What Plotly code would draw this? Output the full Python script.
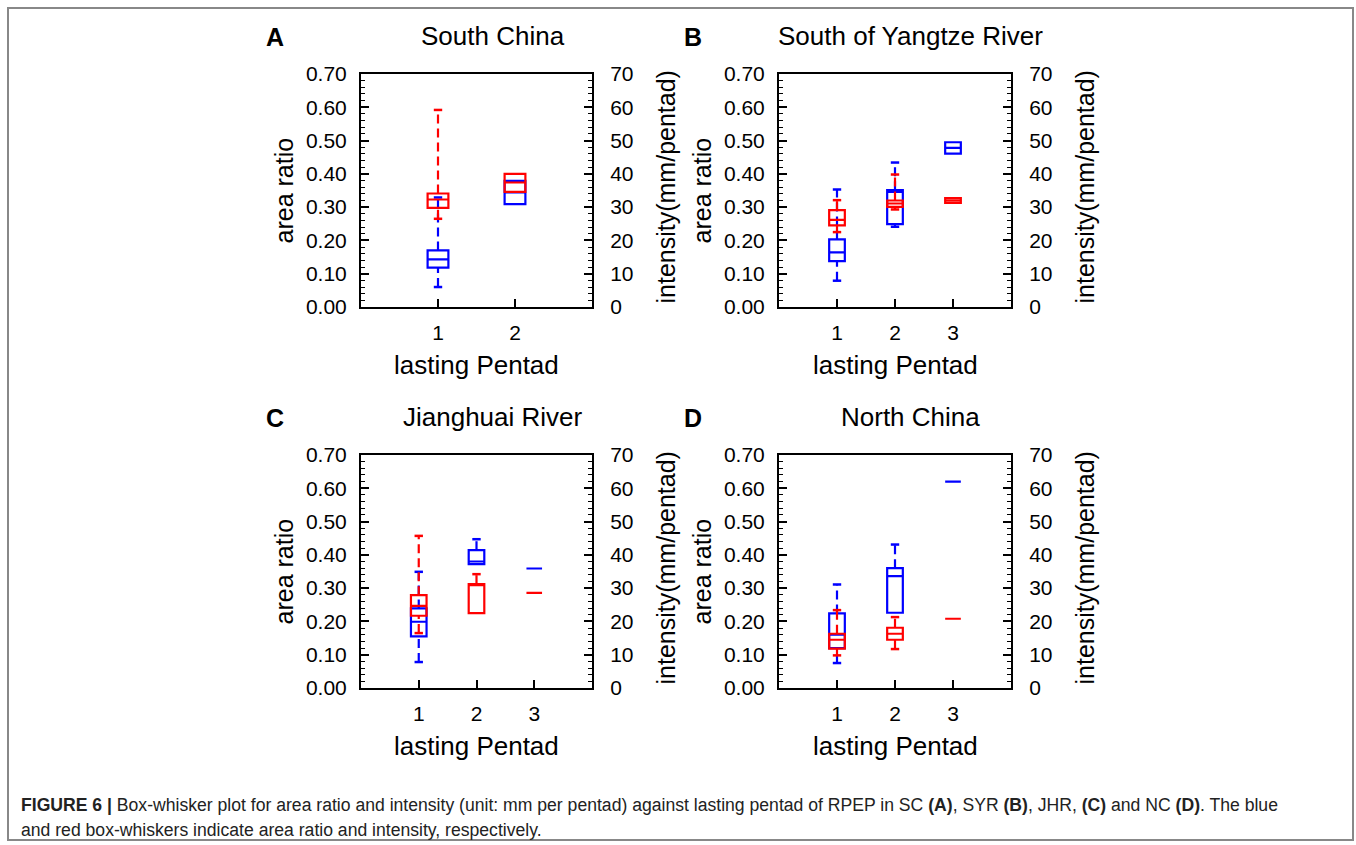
import plotly.graph_objects as go

W, H = 1356, 845

# ---------------- data ----------------
# Panel A: South China
A_cats = [1, 2]
A_area_lo = [0.060, 0.309]
A_area_q1 = [0.118, 0.309]
A_area_med = [0.143, 0.344]
A_area_q3 = [0.170, 0.379]
A_area_hi = [0.329, 0.379]
A_int_lo = [26.5, 34.6]
A_int_q1 = [29.8, 34.6]
A_int_med = [32.3, 37.4]
A_int_q3 = [34.1, 40.0]
A_int_hi = [59.2, 40.0]

# Panel B: South of Yangtze River
B_cats = [1, 2, 3]
B_area_lo = [0.079, 0.241, 0.461]
B_area_q1 = [0.138, 0.249, 0.461]
B_area_med = [0.164, 0.346, 0.478]
B_area_q3 = [0.203, 0.351, 0.495]
B_area_hi = [0.353, 0.434, 0.495]
B_int_lo = [22.5, 29.3, 31.3]
B_int_q1 = [24.5, 30.1, 31.3]
B_int_med = [26.2, 31.1, 32.0]
B_int_q3 = [29.1, 32.0, 32.7]
B_int_hi = [32.1, 39.8, 32.7]

# Panel C: Jianghuai River
C_cats = [1, 2, 3]
C_area_lo = [0.078, 0.372, 0.359]
C_area_q1 = [0.155, 0.372, 0.359]
C_area_med = [0.199, 0.380, 0.359]
C_area_q3 = [0.239, 0.414, 0.359]
C_area_hi = [0.349, 0.447, 0.359]
C_int_lo = [16.5, 22.5, 28.6]
C_int_q1 = [21.7, 22.5, 28.6]
C_int_med = [24.7, 31.0, 28.6]
C_int_q3 = [27.9, 31.2, 28.6]
C_int_hi = [45.7, 34.2, 28.6]

# Panel D: North China
D_cats = [1, 2, 3]
D_area_lo = [0.075, 0.226, 0.620]
D_area_q1 = [0.120, 0.226, 0.620]
D_area_med = [0.160, 0.336, 0.620]
D_area_q3 = [0.224, 0.360, 0.620]
D_area_hi = [0.311, 0.431, 0.620]
D_int_lo = [9.8, 11.7, 20.8]
D_int_q1 = [11.8, 14.5, 20.8]
D_int_med = [14.5, 16.3, 20.8]
D_int_q3 = [16.3, 18.1, 20.8]
D_int_hi = [23.4, 21.3, 20.8]

panel_letters = ["A", "B", "C", "D"]
panel_titles = ["South China", "South of Yangtze River", "Jianghuai River", "North China"]
x_ranges = [[0, 3], [0, 4], [0, 4], [0, 4]]
left_ticks = [0.0, 0.1, 0.2, 0.3, 0.4, 0.5, 0.6, 0.7]
right_ticks = [0, 10, 20, 30, 40, 50, 60, 70]

panels = [
    (A_cats, (A_area_lo, A_area_q1, A_area_med, A_area_q3, A_area_hi),
     (A_int_lo, A_int_q1, A_int_med, A_int_q3, A_int_hi)),
    (B_cats, (B_area_lo, B_area_q1, B_area_med, B_area_q3, B_area_hi),
     (B_int_lo, B_int_q1, B_int_med, B_int_q3, B_int_hi)),
    (C_cats, (C_area_lo, C_area_q1, C_area_med, C_area_q3, C_area_hi),
     (C_int_lo, C_int_q1, C_int_med, C_int_q3, C_int_hi)),
    (D_cats, (D_area_lo, D_area_q1, D_area_med, D_area_q3, D_area_hi),
     (D_int_lo, D_int_q1, D_int_med, D_int_q3, D_int_hi)),
]

# ---------------- layout geometry (pixels) ----------------
plot_px = [  # left, right, top, bottom
    (361, 592, 74, 307),
    (779, 1011, 74, 307),
    (361, 592, 455, 688),
    (779, 1011, 455, 688),
]

FONT = "Liberation Sans, Arial, Helvetica, sans-serif"
BLUE = "#0000ff"
RED = "#ff0000"
BOXW = 0.27

fig = go.Figure()
layout = {}
annotations = []


def fx(p):
    return p / W


def fy(p):
    return 1 - p / H


def add_series(cats, stats, color, xa, ya):
    lo, q1, med, q3, hi = stats
    fig.add_trace(go.Box(
        x=cats, q1=q1, median=med, q3=q3, lowerfence=q1, upperfence=q3,
        width=BOXW, boxpoints=False, line=dict(color=color, width=2.2),
        fillcolor="rgba(0,0,0,0)", xaxis=xa, yaxis=ya, showlegend=False,
        hoverinfo="skip"))
    wx, wy, cx, cy = [], [], [], []
    for c, l, a, b, h in zip(cats, lo, q1, q3, hi):
        if h > b:
            wx += [c, c, None]
            wy += [b, h, None]
            cx.append(c)
            cy.append(h)
        if l < a:
            wx += [c, c, None]
            wy += [l, a, None]
            cx.append(c)
            cy.append(l)
    if wx:
        fig.add_trace(go.Scatter(
            x=wx, y=wy, mode="lines", line=dict(color=color, width=2.2, dash="9px,5px"),
            xaxis=xa, yaxis=ya, showlegend=False, hoverinfo="skip"))
        fig.add_trace(go.Scatter(
            x=cx, y=cy, mode="markers",
            marker=dict(symbol="line-ew", size=6, line=dict(color=color, width=2.5)),
            xaxis=xa, yaxis=ya, showlegend=False, hoverinfo="skip"))


for i, (cats, area, inten) in enumerate(panels):
    L, R, T, B = plot_px[i]
    xn = i + 1
    yl = 2 * i + 1
    yr = 2 * i + 2
    xa = "x" if xn == 1 else f"x{xn}"
    yla = "y" if yl == 1 else f"y{yl}"
    yra = f"y{yr}"
    xkey = "xaxis" if xn == 1 else f"xaxis{xn}"
    ylkey = "yaxis" if yl == 1 else f"yaxis{yl}"
    yrkey = f"yaxis{yr}"

    layout[xkey] = dict(
        domain=[fx(L), fx(R)], anchor=yla, range=x_ranges[i], automargin=False,
        tickmode="array", tickvals=cats, ticktext=[str(c) for c in cats],
        ticks="inside", ticklen=8, tickwidth=2, tickcolor="black",
        showline=True, linewidth=2, linecolor="black", mirror=True,
        showgrid=False, zeroline=False, ticklabelstandoff=6,
        tickfont=dict(family=FONT, size=21, color="black"))
    layout[ylkey] = dict(
        domain=[fy(B), fy(T)], anchor=xa, range=[0, 0.7], automargin=False,
        tickmode="array", tickvals=left_ticks, ticktext=[f"{v:.2f}" for v in left_ticks],
        ticks="inside", ticklen=8, tickwidth=1.5, tickcolor="black",
        minor=dict(dtick=0.02, tick0=0, ticks="inside", ticklen=4, tickwidth=1, tickcolor="black"),
        showline=True, linewidth=2, linecolor="black",
        showgrid=False, zeroline=False, ticklabelstandoff=8,
        tickfont=dict(family=FONT, size=21, color="black"))
    layout[yrkey] = dict(
        overlaying=yla, side="right", anchor=xa, range=[0, 70], automargin=False,
        tickmode="array", tickvals=right_ticks, ticktext=[str(v) for v in right_ticks],
        ticks="inside", ticklen=8, tickwidth=1.5, tickcolor="black",
        minor=dict(dtick=2, tick0=0, ticks="inside", ticklen=4, tickwidth=1, tickcolor="black"),
        showline=True, linewidth=2, linecolor="black",
        showgrid=False, zeroline=False, ticklabelstandoff=12,
        tickfont=dict(family=FONT, size=21, color="black"))

    add_series(cats, area, BLUE, xa, yla)
    add_series(cats, inten, RED, xa, yra)

    # panel letter and title
    annotations.append(dict(text=f"<b>{panel_letters[i]}</b>", x=fx(L - 86), y=fy(T - 37),
                            xref="paper", yref="paper", showarrow=False,
                            xanchor="center", yanchor="middle",
                            font=dict(family=FONT, size=25, color="black")))
    annotations.append(dict(text=panel_titles[i], x=fx((L + R) / 2 + 16), y=fy(T - 38),
                            xref="paper", yref="paper", showarrow=False,
                            xanchor="center", yanchor="middle",
                            font=dict(family=FONT, size=26, color="black")))
    # axis titles
    annotations.append(dict(text="area ratio", x=fx(L - 78), y=fy((T + B) / 2),
                            xref="paper", yref="paper", showarrow=False, textangle=-90,
                            xanchor="center", yanchor="middle",
                            font=dict(family=FONT, size=25, color="black")))
    annotations.append(dict(text="intensity(mm/pentad)", x=fx(R + 73), y=fy((T + B) / 2 - 3),
                            xref="paper", yref="paper", showarrow=False, textangle=-90,
                            xanchor="center", yanchor="middle",
                            font=dict(family=FONT, size=25, color="black")))
    annotations.append(dict(text="lasting Pentad", x=fx((L + R) / 2), y=fy(B + 58),
                            xref="paper", yref="paper", showarrow=False,
                            xanchor="center", yanchor="middle",
                            font=dict(family=FONT, size=26, color="black")))

caption1 = ("<b>FIGURE 6 |</b> Box-whisker plot for area ratio and intensity (unit: mm per pentad) "
            "against lasting pentad of RPEP in SC <b>(A)</b>, SYR <b>(B)</b>, JHR, <b>(C)</b> and NC "
            "<b>(D)</b>. The blue")
caption2 = "and red box-whiskers indicate area ratio and intensity, respectively."
CAPFONT = "Liberation Sans, Arial, sans-serif"
annotations.append(dict(text=caption1, x=fx(19), y=fy(805), xref="paper", yref="paper",
                        showarrow=False, xanchor="left", yanchor="middle",
                        font=dict(family=CAPFONT, size=17.6, color="#222222")))
annotations.append(dict(text=caption2, x=fx(19), y=fy(830), xref="paper", yref="paper",
                        showarrow=False, xanchor="left", yanchor="middle",
                        font=dict(family=CAPFONT, size=17.6, color="#222222")))

fig.update_layout(
    width=W, height=H, margin=dict(l=0, r=0, t=0, b=0, autoexpand=False),
    paper_bgcolor="white", plot_bgcolor="white",
    boxmode="overlay", showlegend=False,
    annotations=annotations,
    shapes=[dict(type="rect", xref="paper", yref="paper",
                 x0=fx(8), x1=fx(1353), y0=fy(840), y1=fy(8),
                 line=dict(color="#888888", width=2))],
    **layout)

fig.write_html("out.html")
